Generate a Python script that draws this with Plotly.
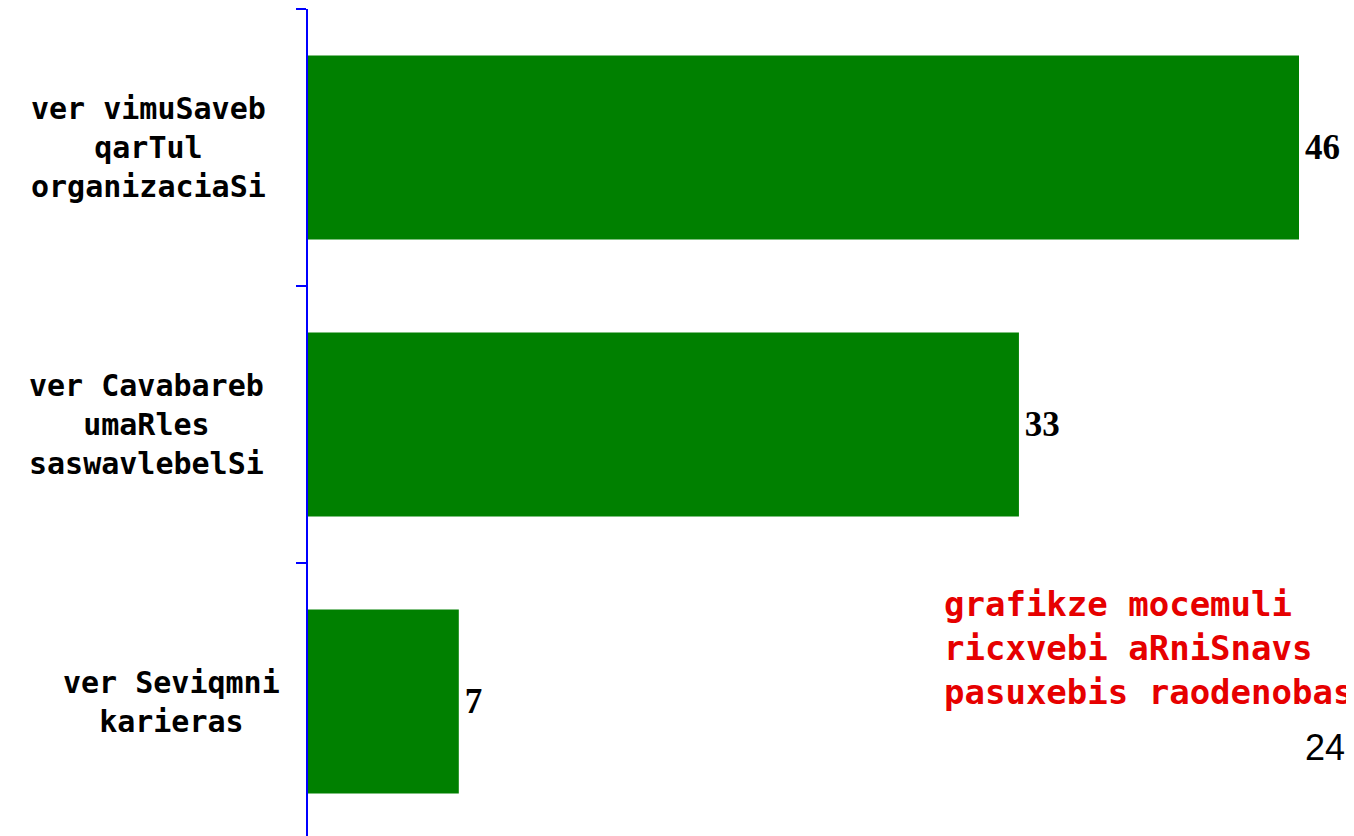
import plotly.graph_objects as go

# data (top to bottom as in the picture)
labels = [
  "ver vimuSaveb<br>qarTul<br>organizaciaSi",
  "ver Cavabareb<br>umaRles<br>saswavlebelSi",
  "ver Seviqmni<br>karieras",
]
counts = [46, 33, 7]
note = "grafikze mocemuli<br>ricxvebi aRniSnavs<br>pasuxebis raodenobas"
page_no = "24"

'''============================================================================'''
'''                                    PLOT                                    '''
'''============================================================================'''

# the page body has an 8px margin, so the figure sits at (8, 8) on screen
OFF = 8
W, H = 1354 - OFF, 836 - OFF
L, T, B = 308 - OFF, 1, 0
PW, PH = W - L, H - T - B
SLOT = 277  # px per category band in the picture

def px_x(p):
  return (p - OFF - L) / PW

def px_y(p):
  return (H - B - (p - OFF)) / PH

fig = go.Figure()
fig.layout.template = "plotly_white"

fig.add_trace(
  go.Bar(
    y=labels,
    x=counts,
    orientation="h",
    marker=dict(color="#008000", line=dict(width=0)),
    text=counts,
    texttemplate="\u200a%{x}",
    textposition="outside",
    cliponaxis=False,
    textfont=dict(family="Liberation Serif", size=35, color="black", weight="bold"),
  )
)

fig.update_layout(
  width=W,
  height=H,
  margin=dict(l=L, r=0, t=T, b=B),
  showlegend=False,
  bargap=0.335,
  plot_bgcolor="white",
  paper_bgcolor="white",
)

fig.update_xaxes(range=[0, PW / (991 / 46)], visible=False, showgrid=False, zeroline=False)
fig.update_yaxes(
  categoryorder="array",
  categoryarray=labels[::-1],
  range=[len(labels) - 0.5 - PH / SLOT, len(labels) - 0.5],
  showgrid=False,
  zeroline=False,
  showline=True,
  linecolor="#0000FF",
  linewidth=2,
  ticks="outside",
  tickson="boundaries",
  ticklen=10,
  tickwidth=2,
  tickcolor="#0000FF",
  showticklabels=False,
)

# category labels, centered lines
label_center_px = [148, 146, 171]
for lab, cx in zip(labels, label_center_px):
  fig.add_annotation(
    text=lab, xref="paper", x=px_x(cx), yref="y", y=lab,
    xanchor="center", yanchor="middle", align="center", showarrow=False,
    font=dict(family="DejaVu Sans Mono", size=30, color="black", weight="bold"),
  )

fig.add_annotation(
  text=note, xref="paper", x=px_x(942), yref="paper", y=px_y(648),
  xanchor="left", yanchor="middle", align="left", showarrow=False,
  font=dict(family="DejaVu Sans Mono", size=34, color="#E60000", weight="bold"),
)

fig.add_annotation(
  text=page_no, xref="paper", x=px_x(1325), yref="paper", y=px_y(747),
  xanchor="center", yanchor="middle", showarrow=False,
  font=dict(family="Liberation Sans", size=36, color="black"),
)

fig.write_html("out.html")
